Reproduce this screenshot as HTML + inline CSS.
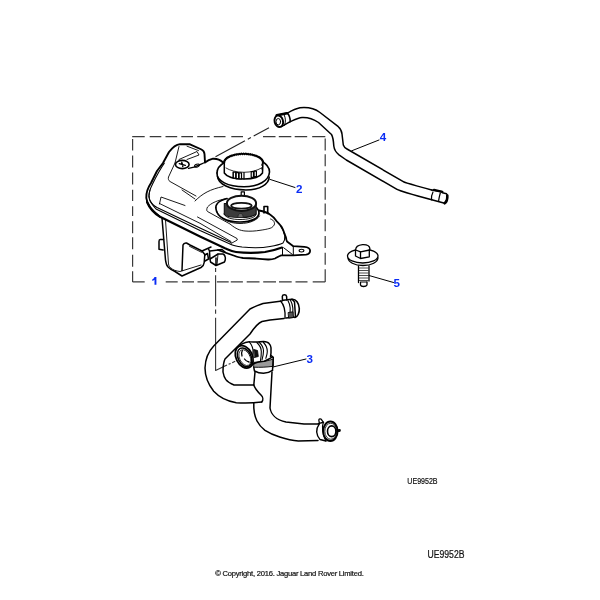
<!DOCTYPE html>
<html><head><meta charset="utf-8">
<style>
html,body{margin:0;padding:0;background:#fff;width:600px;height:600px;overflow:hidden}
svg{position:absolute;left:0;top:0;will-change:transform}
.t{font-family:"Liberation Sans",sans-serif}
</style></head><body>
<svg width="600" height="600" viewBox="0 0 600 600">
<g fill="none" stroke="#000" stroke-linecap="round" stroke-linejoin="round">
<!-- dashed box -->
<g stroke-width="1.2" stroke="#3a3a3a" stroke-linecap="butt">
<path d="M132.2 136.6 H144.7 M149.7 136.6 H161.3 M165.5 136.6 H177.2 M181.3 136.6 H193 M197.2 136.6 H209.7 M213.8 136.6 H225.5 M231.3 136.6 H243 M263 136.6 H275.5 M278.8 136.6 H291.3 M294.7 136.6 H307.2 M312.2 136.6 H325.3 M165.7 281.9 H177.7 M182 281.9 H194 M197.5 281.9 H209.6 M216.9 281.9 H228.7 M230.8 281.9 H242.9 M246.7 281.9 H259.5 M263.2 281.9 H276 M279 281.9 H291.7 M295.5 281.9 H307.5 M312.7 281.9 H325.2 M325.2 138.4 V150.5 M325.2 154.3 V166.3 M325.2 170.7 V183.4 M325.2 187.2 V199.8 M325.2 203.6 V215.3 M325.2 219.3 V231.3 M325.2 236 V248 M325.2 252.7 V264.7 M325.2 269.3 V281.9 M132.6 139.1 V150.5 M132.6 155.5 V167.5 M132.6 172.6 V184.6 M132.6 189.7 V201.1 M132.6 206.2 V216 M132.6 221.3 V233.3 M132.6 237.3 V249.3 M132.6 254.7 V266.7 M132.6 271.3 V281.9 M132.6 281.9 H144.7"/>
</g>
<!-- vertical dash-dot from tank to hose -->
<path d="M215.6 268 V272 M215.6 275.3 V306.3 M215.6 309.5 V313.8 M215.6 317.7 V370.5 L227 365 M228.6 364.3 L230.6 363.4 M232.2 362.7 L235.2 361.2" stroke-width="1.1" stroke="#333" stroke-linecap="butt"/>
<!-- dash-dot from tank to hose4 -->
<path d="M215.5 156.7 L269 127.8" stroke-width="1.1" stroke="#222" stroke-linecap="butt" stroke-dasharray="33.5 3.2 3.5 3.2 40"/>
<!-- leader lines -->
<g stroke-width="1">
<path d="M270 179.4 L295 187.5"/>
<path d="M351.7 150.8 L379 140"/>
<path d="M273 367 L306 359"/>
<path d="M369 275.5 L393.5 282.5"/>
</g>

<!-- TANK -->
<g stroke-width="1.6">
<!-- hump & left side outer contour -->
<path stroke-width="1.9" d="M160 216.8 C153 211.5,147 206,146.3 198 C146 193,147 189,151 183 L157 171 L163 163 L169 152 C172 148,176 144.5,180 144.1 L190 144.3 L201.5 149.5 C203.5 150.5,204.3 152,204.5 154 L205 162.5 C207 161,210 159.5,213 158.7 C217 158.5,220 159.5,222.5 162"/>
<!-- rim outer thick line -->
<path stroke-width="2.1" d="M147 202 C149 207,153 212.5,160 216.8 L200 236.5 L225 248.3 C229 250,232 251.5,236 252 C245 253,255 253.2,265 252 C272 251,278 249,282 247.5"/>
<!-- right dome + bracket + bottom -->
<path stroke-width="1.8" d="M259 210.5 C264 211.5,268 213,270 214.4 C272.5 216,274.5 218,276.3 220.8 C279 223.5,281 225.5,282.2 227.8 C283.3 230,284 232,284.5 233.7 C285.5 236,286.2 238,286.5 240 L287 241.5 L293.3 246.2 L304.5 246.8 C308 247,310.2 249,310.1 251 C310 253,308.5 254.3,306 254.6 L293.3 255.3 L281.4 255.3 C279 256,278 257,275 258.5 C273 259.2,271 259.6,268 259.5 C262 259.3,258 258.8,255 258.5 L243 258 C240 257.5,237 257,235 256 L218 250"/>
</g>
<g stroke-width="0.9">
<!-- inner double line left -->
<path stroke-width="1.1" d="M164.3 163.3 C161 168,158 173,152.8 183.5 C149.5 190,148.5 194,148.8 197 C149.5 201,151.5 204,156 209 L200 230.6 L230 244 C234 246,238 246.5,242 247 C252 248,262 248,270 246.5 C276 245.5,280 244.5,283 243 C284.6 241,285 239,284.8 236 C284.5 233,283.3 230,280.6 226.3"/>
<path d="M150 190 C149 194,149 197,150 201"/>
<path d="M159.5 203.5 L200 223.3 L231 241.5"/>
<path d="M197.5 217 L237 238.5 L237.3 240 L231 243.5"/>
<path d="M150.3 201 C151.3 203.5,153.5 205.5,157 207.5 L200 228 L231 242.5" stroke-width="1.1"/>
<!-- hump inner -->
<path d="M179 146.5 L175 163"/>
<path d="M187 146.2 L198.5 150.6"/>
<path d="M179 159.5 L197 151.5 L199 155 L187 159.5"/>
<path d="M188.5 168.3 L194 167.2 C197 165.5,200 164.5,205 162.5" stroke-width="1.3"/>
<ellipse cx="197" cy="165.6" rx="2.6" ry="1.4" transform="rotate(-20 197 165.6)" stroke-width="1"/>
<!-- screw -->
<ellipse cx="182.3" cy="164.5" rx="6.8" ry="4.1" stroke-width="1.6"/>
<path d="M179.3 163.6 L185.3 165.4 M181.8 162.3 L182.8 166.6" stroke-width="1.4"/>
<!-- inner panel line -->
<path d="M175 163 L168.5 177 C168 179,168.5 180.5,170 181.5 L196 196"/>
<!-- top body line -->
<path d="M195 201 C203 193,210 189.5,223 186.5"/>
<!-- left panel rect -->
<path d="M185 205.5 L161 197 L159.5 204"/>
<path d="M182 190 L195 199"/>
<!-- neck panel outline -->
<path d="M227 198.5 C218 200,211 203,207.5 207 C206.5 209,206.5 211,207.5 211.5 L230 224 C236 229,240 230.5,245 231 C250 231.5,256 231,260 230.3 C266 229.5,270 228.5,271.7 227.6 C274 226,275 224,274.4 222.8 C274 220.5,272 219.5,270.6 219"/>
</g>
<path d="M282.5 247.7 V255.3 M283.6 247.7 L292.3 254.4 M293.3 246.5 V255" stroke-width="1"/>
<ellipse cx="301.5" cy="250.6" rx="2.4" ry="1.4" stroke-width="1.1"/>
<!-- lower reservoir -->
<g stroke-width="1.5">
<path d="M162 218 L165.5 260 C166 264,167 266,168 267 C170 269,172.5 270.5,175 271.5 L182 276 L201 267.5 C203.5 266,204 264.5,204.2 262.5 L204.8 254.5 L202 251"/>
<path d="M163.5 239.5 H160.2 C159.3 239.5,159 240.5,159 241.5 V249.3 L163.2 250"/>
<path d="M182 270.5 L183 245 C183.5 243.5,185 242.8,186.5 243 L190 245 L202 251 L211 247"/>
<path d="M204.8 255 L207.5 253.5 L208.5 259 L205 261"/>
<path d="M208.5 249 L209.5 251 L210 260 M210 251 L222 249.5 L225 252 M210 259 L218 254 L223 254 C225.5 255,226 259,224.5 262 L216 265.5 L210.5 262 L210 259 M216 258 V265"/>
</g>
<g stroke-width="0.9">
<path d="M165.5 220 L168.5 264 C169 266.5,170 267.5,171 268 C173 270,176 271,180 271.5 L201 265"/>
<path d="M189.5 246.3 L201.5 252.3"/>
<path d="M218 254 L217 265"/>
</g>
<!-- CAP -->
<g stroke-width="1.6">
<path d="M217 173 C216.5 181,228 186.8,244 186.8 C258 186.8,269 181,269.5 172 C269.5 167,266 163.5,261 161"/>
<path d="M217 173 C217 168,220 165,224.5 162.5"/>
<path d="M217.5 176.5 C218 184,230 190,246 190 C260 190,269 184,269.2 177"/>
</g>
<path d="M224 162.3 V172.5 C226 176.5,234 179,244 179 C253 179,260 177,262.5 173 L263 162.3 Z" fill="#fff" stroke="none"/>
<path d="M223.81 162.60 L224.47 162.13 L223.93 161.57 L224.71 161.21 L224.31 160.55 L225.19 160.30 L224.92 159.56 L225.90 159.42 L225.77 158.61 L226.83 158.59 L226.84 157.71 L227.97 157.80 L228.13 156.86 L229.31 157.07 L229.61 156.09 L230.83 156.41 L231.26 155.41 L232.51 155.83 L233.07 154.81 L234.33 155.34 L235.01 154.31 L236.27 154.93 L237.06 153.92 L238.30 154.62 L239.20 153.63 L240.39 154.42 L241.38 153.46 L242.53 154.31 L243.60 153.40 L244.67 154.31 L245.82 153.46 L246.81 154.42 L248.00 153.63 L248.90 154.62 L250.14 153.92 L250.93 154.93 L252.19 154.31 L252.87 155.34 L254.13 154.81 L254.69 155.83 L255.94 155.41 L256.37 156.41 L257.59 156.09 L257.89 157.07 L259.07 156.86 L259.23 157.80 L260.36 157.71 L260.37 158.59 L261.43 158.61 L261.30 159.42 L262.28 159.56 L262.01 160.30 L262.89 160.55 L262.49 161.21 L263.27 161.57 L262.73 162.13 L263.39 162.60" fill="#fff" stroke-width="1.8"/>
<path d="M224.3 162 V173 C226.5 176.5,234 179,244 179 C253 179,260 177,262.5 173 L262.9 162.5" stroke-width="1.5"/>
<path d="M226 168 C230 170.5,236 172.2,244 172.3 C251 172.3,257 170.5,261.5 168" stroke-width="0.8"/>
<path d="M262.5 163 L261.6 165 L262.6 166.5 L261.6 168.5 L262.4 170" stroke-width="0.9"/>
<g stroke-width="1.2" fill="#fff">
<path d="M233.2 172 V178 M244 172.6 V179"/>
<rect x="233.3" y="172.2" width="2.4" height="6" />
<rect x="236.2" y="172.6" width="2.4" height="6" />
<rect x="239.1" y="172.8" width="2.4" height="6.1" />
<rect x="251.2" y="171.6" width="2.3" height="5.7" />
<rect x="254.1" y="171.1" width="2.3" height="5.6" />
</g>
<!-- NECK -->
<path d="M241.2 196 V191.8 H244.4 V195.8" stroke-width="1.2"/>
<g stroke-width="1.7">
<path d="M216 209 C215 204,218 201,227 198.5 M216 209 C217 217,226 222,240 222 C252 222,259 218,259 213 C259 209,255 206,252 205"/>
</g>
<path d="M217 211.5 C219 218,228 223.5,240 223.5 C250 223.5,257 220,259.5 216" stroke-width="0.9"/>
<path d="M224 214 C226 218,232 219.5,240 219.5 C248 219.5,254 218,256 215" stroke-width="0.9"/>
<path d="M224.3 203.5 V214.5 C226 216.5,233 217.5,240.5 217.5 C248 217.5,254 216,256.2 214 V203 Z" fill="#3c3c3c" stroke="#111" stroke-width="1.1"/>
<path d="M237.8 217.3 C237.8 215,238.8 213.5,240.5 213.5 C242.2 213.5,243.2 215,243.2 217.3" fill="#666" stroke="#222" stroke-width="0.9"/>
<ellipse cx="241.5" cy="203.3" rx="14.6" ry="7.6" fill="#fff" stroke="#111" stroke-width="2"/>
<ellipse cx="241.4" cy="205.7" rx="10.3" ry="2.9" fill="#fff" stroke="#111" stroke-width="1.8"/>
<path d="M264 213 V206.5 L267.7 206.5 V213.5" stroke-width="1.6"/>

<!-- HOSE 4 -->
<g stroke-width="1.5">
<path d="M287 113.3 C292 110.5,296 108.5,300 107.8 C306 107.2,314 108,320 112.5 L338.3 126.7 C341 129,341.7 131,342 134 L343.3 145 C344 147,345 148,347 149 L403.3 181.7 C405 183,410 184,431.7 190"/>
<path d="M289.5 122 C294 120,298 117.8,302 117.5 C306 117.3,312 118,318.5 122.5 L331.5 134.5 C333 137,333.5 141,333.8 146 C334.3 150,336 152.5,339 154.8 L346.3 160 L397 189.3 C400 191,405 192.5,431.7 199.7"/>
<path d="M276.5 115.6 L287.3 113.1 C289 114.8,290.3 117.8,290.2 121.6 L281 126.8" fill="#fff"/>
<path d="M276.8 115.3 L287 113.3" stroke-width="2.6"/>
<path d="M284.2 115 C285.6 118,285.9 121.5,284.6 125.3" stroke-width="1"/>
<ellipse cx="278.8" cy="121.3" rx="4.2" ry="5.8" transform="rotate(-15 278.8 121.3)" fill="#fff" stroke-width="1.9"/>
<path d="M431.7 190 L442.3 191.8 L442.5 192.8 L446.5 193.8 C447.8 195,448 199,444.7 203.3 L431.7 199.7"/>
<path d="M434 189.9 L442.3 191.8" stroke-width="2.4"/>
<path d="M433 192 C432 194,431.3 197,431.5 199.5" stroke-width="1.2"/>
<path d="M440.3 193 C439.5 196,438.7 199,438.6 201.5" stroke-width="1.2"/>
<path d="M447.3 195.5 C447.5 199,446.5 202,444.7 203.3" stroke-width="2.6"/>
</g>
<ellipse cx="278.3" cy="121.7" rx="2.3" ry="3.2" stroke-width="1"/>

<!-- BOLT 5 -->
<g stroke-width="1.3">
<path d="M348 258 C348.5 262,354 265.5,363 265.5 C372 265.5,377.5 262,378 258"/>
<ellipse cx="362.75" cy="256" rx="15.25" ry="7" fill="#fff"/>
<path d="M355.6 250 C355.6 247.5,358 245,362.5 244.6 C366.5 244.4,369.6 246,369.9 248.6 L369.5 250 L360.6 251.8 Z" fill="#fff"/>
<path d="M355.5 250 V256 L360.5 258.5 L369.3 256.8 V249.5 M360.5 251.8 V258.5"/>
<path d="M360.6 282 H366.8" stroke-width="1"/>
<path d="M358.5 266 V282.5 M369 266 V281"/>
<path d="M360.5 282.5 V285 C361 287,366 287,367 285 V282"/>
</g>
<g stroke-width="0.7">
<path d="M359 268 H368 M359 270.5 H368 M359 273 H368 M359 275.5 H368 M359 278 H368 M359 280.5 H368"/>
</g>

<!-- HOSE 3 -->
<g stroke-width="1.5">
<!-- upper hose -->
<path d="M282 301 L263 303.5 C258 305,254 307,250 309 L213.7 346 C208 352,205.3 359,205 368 C205 377,208 384,213.7 391.3 C219 397,228 401.5,236.3 402.7 C244 403.3,252 403.2,261.7 402"/>
<path d="M284 318.5 L270 320 L262 321.5 C258 323,254 328,250 334 L225 359 C223 363,223 368,223 372 C224 378,226 382,234 385 L253 385"/>
<!-- clamp upper -->
<path d="M282.5 300.5 L282.3 296.3 C282.6 294.3,286.2 294.3,286.6 296.3 L286.8 300"/>
<path d="M280.5 301 C283.5 304,285.5 310,285 318.3" stroke-width="1.3"/>
<path d="M283 300.3 L292 299.3 C293 300,294 301,294.5 302 L295.5 317 L286 318"/>
<path d="M288 300.8 C290.5 305,291 311,289 317.5" stroke-width="1.1"/>
<path d="M290.5 300.3 C293 305,293.5 311,292.3 317" stroke-width="1.1"/>
<path d="M288.5 312.5 L293 311.8 L293.5 317.5 L289 318 Z" fill="#555" stroke-width="0.9"/>
<path d="M292 299.3 C296 299,299 303,299.3 308.5 C299.5 313,297.5 317,295 317.5" stroke-width="1.6"/>
<!-- elbow -->
<path d="M254.5 362.3 C262 362,268 361,273.3 359 L273.3 366.3 C266 367.2,260 367.5,254 367.2 Z" fill="#9a9a9a" stroke="#111" stroke-width="1"/>
<path d="M240.3 344.8 C244 343,246 342,249.3 341.8 C252 342,254 342.2,256.8 342.1 C259 342,261 341.5,263.5 341.4 C266 341.5,268 342,268.8 343.3 C270.5 345,271 346.5,271 347.8 L271 353 L270.5 356.5"/>
<path d="M270.8 355.3 C272 356,273 357,273.3 357.5 L272.9 364 L272.5 370.3"/>
<path d="M253.8 367.3 C254 368.5,254.2 370,254.5 371 C258 373,261 373.3,263.5 373.3 C267 373,270 372,272.5 370.3"/>
<path d="M250 365.8 C253 364,256 362.5,258.3 362 C260 361.7,262 361.5,264.3 361.3 C267 360,270 358.5,272.5 356.8"/>
<g stroke-width="1.1">
<path d="M249.3 341.8 C252 345,253.5 349,253 353 C252.8 357,252.3 360,251.5 363.5"/>
<path d="M256.8 342.5 C259.5 345,261.3 348,261.3 351.5 C261.3 355,261 358,260.5 360.5"/>
<path d="M259 342 C262 345,263.5 347.5,263.5 350.8 C263.5 354,262.8 357,262 359.8"/>
<path d="M263.5 342.5 C266 345,267.3 348,267.3 351.5 C267.3 354,266.5 356,265.8 358.3"/>
</g>
<path d="M254 349.5 L257.5 350.5 L258.3 356.5 L254.5 357.5 Z" fill="#111" stroke-width="0.8"/>
<ellipse cx="244.2" cy="356.8" rx="8.2" ry="11.8" transform="rotate(-26 244.2 356.8)" fill="#fff" stroke-width="1.8"/>
<ellipse cx="244.6" cy="357.3" rx="6.5" ry="9.9" transform="rotate(-26 244.6 357.3)" stroke-width="1.5"/>
<ellipse cx="244.9" cy="357.6" rx="5.3" ry="8.4" transform="rotate(-26 244.9 357.6)" stroke-width="0.7"/>
<path d="M242.3 350.5 C241.5 352,241.3 354,242 356 M244.5 359 C245.5 360.5,247 361.5,249 362" stroke-width="1.3"/>
<!-- vertical pipe -->
<path d="M255 372 L253.8 385 M253.8 403 C253.5 410,254.5 416,257 421 C259 425,262 428,265 430.3 C270 433.5,275 435.5,279.7 437 C286 439,292 440.5,298.3 441 L318 440.5"/>
<path d="M272 372 L270 408 C271 414,276 420,286 422 L304 424 L319 424"/>
<path d="M253.7 384.7 C255 389,258 392,261 395 C263 397,263.5 400,261.7 402"/>
<!-- lower fitting -->
<path d="M319.2 424.2 C317.2 427,316.5 430,316.7 432 C317 435,318 437.5,320 439.5 L326 441" stroke-width="1.4"/>
<path d="M318.3 423.6 L323.5 422.3" stroke-width="1.4"/>
<path d="M319.3 422.8 L318.8 420 C319 418.8,320.5 418.6,321.3 419.3 L323.5 422.5" stroke-width="1.3"/>
<path d="M323.3 422.5 C322 426,322 434,325.8 440.8" stroke-width="1.2"/>
<path d="M336 430 L340.2 429.5 L340.2 431.3 L336.5 431.5" fill="#111" stroke-width="1"/>
<ellipse cx="330.4" cy="431.25" rx="7.2" ry="9.7" fill="#fff" stroke-width="1.9"/>
<ellipse cx="330.8" cy="431.25" rx="6" ry="8" stroke-width="0.8"/>
<ellipse cx="331.7" cy="431.25" rx="4.2" ry="5.4" stroke-width="1.6"/>
</g>
</g>

<!-- labels -->
<g fill="#0a2cf5">
<path d="M154.5 277 H156.4 V284.8 H154.5 V279.8 C153.8 280.4,153 280.8,152.3 281 V279.3 C153.3 278.9,154.1 278.2,154.5 277 Z"/>
</g>
<g class="t" fill="#0a2cf5" font-weight="bold" font-size="11.6px">
<text x="296" y="192.8">2</text>
<text x="306.5" y="363">3</text>
<text x="379.7" y="141">4</text>
<text x="393.6" y="286.7">5</text>
</g>
<g class="t" fill="#111" stroke="#111" stroke-width="0.2">
<text x="407.3" y="483.8" font-size="8.6px" textLength="30.3" lengthAdjust="spacingAndGlyphs">UE9952B</text>
<text x="427.5" y="557.5" font-size="10px" textLength="37" lengthAdjust="spacingAndGlyphs">UE9952B</text>
<text x="215.3" y="575.7" font-size="7.6px" textLength="148.5" lengthAdjust="spacing">© Copyright, 2016. Jaguar Land Rover Limited.</text>
</g>
</svg>
</body></html>
